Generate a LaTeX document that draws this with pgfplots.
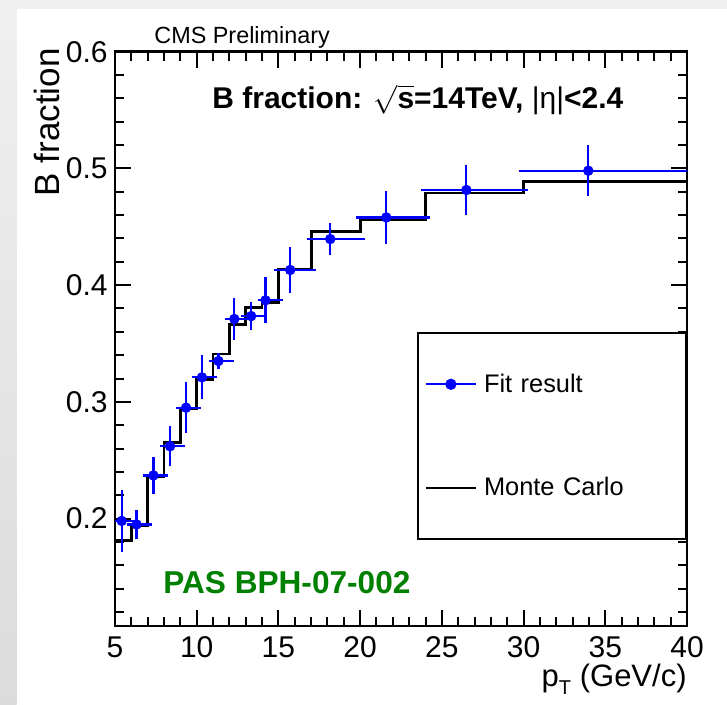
\documentclass[border=0pt]{standalone}
\usepackage{fontspec}
\setmainfont{Liberation Sans}
\usepackage{pgfplots}
\pgfplotsset{compat=1.18}
\usepackage{pgfplotstable}
\definecolor{cmsgreen}{RGB}{0,128,0}
\definecolor{rootblue}{RGB}{0,0,255}

\pgfplotstableread{
x y exm exp ey
5.41 0.198 0.41 0.59 0.023
6.32 0.195 0.32 0.68 0.009
7.35 0.237 0.35 0.65 0.012
8.37 0.262 0.37 0.63 0.0135
9.35 0.295 0.35 0.65 0.018
10.32 0.321 0.32 0.68 0.015
11.33 0.335 0.33 0.67 0.003
12.30 0.371 0.30 0.70 0.014
13.33 0.3735 0.33 0.67 0.0085
14.21 0.387 0.21 0.79 0.016
15.72 0.413 0.72 1.28 0.016
18.17 0.4395 1.17 1.83 0.0097
21.60 0.458 1.60 2.40 0.019
26.50 0.4815 2.50 3.50 0.018
33.96 0.498 3.96 6.04 0.018
}\fitdata

\pgfplotstableread{
x y
5 0.181
6 0.194
7 0.236
8 0.265
9 0.294
10 0.319
11 0.341
12 0.366
13 0.381
14 0.385
15 0.4135
17 0.446
20 0.456
24 0.479
30 0.489
40 0.489
}\mcdata

\begin{document}
\begin{tikzpicture}
\path[use as bounding box] (0pt,0pt) rectangle (363.5pt,352.5pt);
\fill[white] (0pt,0pt) rectangle (363.5pt,352.5pt);
\shade[top color=black!6, bottom color=black!14] (0pt,0pt) rectangle (8.3pt,352.5pt);
\fill[black!6] (0pt,348pt) rectangle (363.5pt,352.5pt);
\begin{axis}[
  at={(57.5pt,39.5pt)}, anchor=south west,
  scale only axis, width=286pt, height=287.15pt,
  xmin=5, xmax=40, ymin=0.108, ymax=0.6,
  xtick={5,10,15,20,25,30,35,40},
  minor xtick={5,6,...,40},
  ytick={0.2,0.3,0.4,0.5,0.6},
  minor ytick={0.12,0.14,0.16,0.18,0.22,0.24,0.26,0.28,0.32,0.34,0.36,0.38,0.42,0.44,0.46,0.48,0.52,0.54,0.56,0.58},
  tick align=inside, tick pos=both,
  major tick length=8pt, minor tick length=4.5pt,
  tick style={black, line width=1pt},
  axis line style={line width=1.2pt},
  /pgf/number format/assume math mode=true,
  tick label style={font=\fontsize{15}{18}\selectfont, inner sep=0pt},
  xticklabel style={yshift=-5pt},
  yticklabel style={xshift=-3.5pt, /pgf/number format/.cd, fixed, fixed zerofill, precision=1},
  xlabel={p\raisebox{-0.45ex}{\fontsize{10}{12}\selectfont T} (GeV/c)},
  xlabel style={at={(axis description cs:1,0)}, anchor=base east, yshift=-30.5pt, font=\fontsize{15.5}{18}\selectfont, inner sep=0pt},
  legend style={at={(axis description cs:1,0.5119)}, anchor=north east, draw=black, line width=1pt, fill=white,
    inner xsep=3.5pt, inner ysep=18.15pt, row sep=36.7pt, column sep=3.5pt,
    font=\fontsize{12.7}{15}\selectfont,
    nodes={inner sep=0pt, minimum height=15pt, text width=97.5pt, align=left}},
  legend cell align=left,
]
\addplot[black, line width=1.4pt, const plot, forget plot] table[x=x, y=y] {\mcdata};
\addplot[rootblue, only marks, mark=*, mark size=2.4pt,
  legend image code/.code={\draw[rootblue, line width=1pt] (0pt,0pt) -- (25pt,0pt); \fill[rootblue] (12.5pt,0pt) circle (2.3pt);},
  error bars/.cd, x dir=both, x explicit, y dir=both, y explicit,
  error bar style={rootblue, line width=1.1pt},
  error mark options={rootblue, line width=1.1pt, mark size=2.2pt}]
  table[x=x, y=y, x error plus=exp, x error minus=exm, y error=ey] {\fitdata};
\addlegendentry{Fit result}
\addlegendimage{legend image code/.code={\draw[black, line width=1.1pt] (0pt,0pt) -- (25pt,0pt);}}
\addlegendentry{Monte Carlo}
\end{axis}
\node[rotate=90, anchor=base east, inner sep=0pt, font=\fontsize{17.5}{21}\selectfont] at (29.5pt,328.5pt) {B fraction};
\node[anchor=base west, inner sep=0pt, font=\fontsize{11.7}{14}\selectfont] at (77pt,330.5pt) {CMS Preliminary};
\node[anchor=base west, inner sep=0pt, font=\fontsize{15}{18}\selectfont] at (106pt,298pt) {\textbf{B fraction: }\ensuremath{\sqrt{\mbox{\bfseries s}}}\textbf{=14TeV, }|η|\textbf{<2.4}};
\node[anchor=base west, inner sep=0pt, font=\fontsize{15.8}{19}\selectfont\bfseries, text=cmsgreen] at (81.5pt,55.5pt) {PAS BPH-07-002};
\end{tikzpicture}
\end{document}
